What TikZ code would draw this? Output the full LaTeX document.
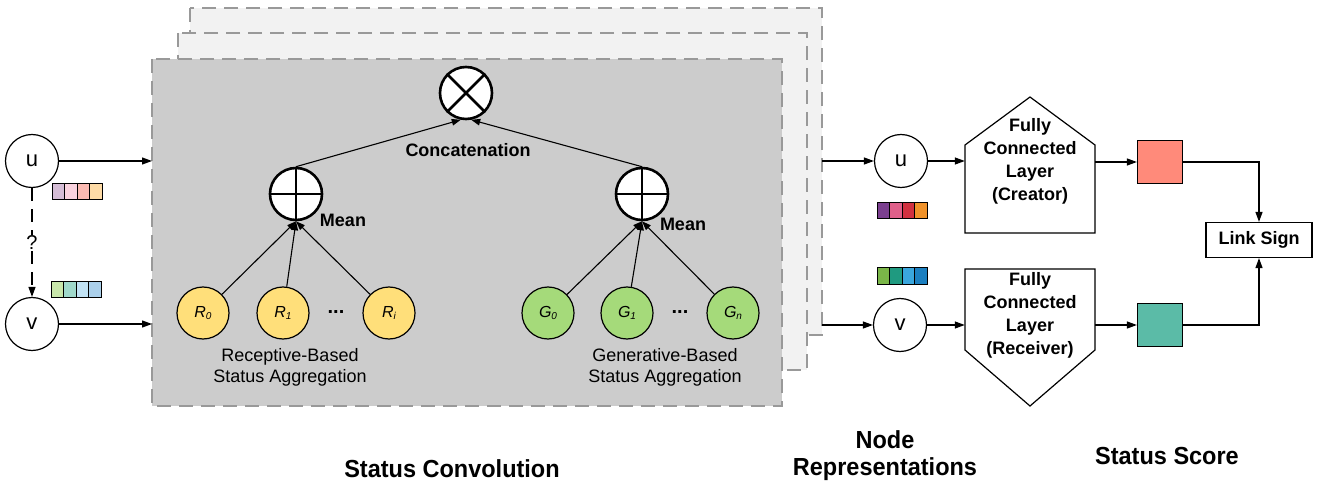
\documentclass[tikz,border=0pt]{standalone}
\usepackage{fontspec}
\setmainfont{Liberation Sans}
\usetikzlibrary{arrows.meta,shapes.geometric}
\definecolor{framegray}{HTML}{999999}
\definecolor{frontfill}{HTML}{CCCCCC}
\definecolor{backfill}{HTML}{F2F2F2}
\definecolor{ryellow}{HTML}{FFDF7A}
\definecolor{ggreen}{HTML}{A5DA7A}
\definecolor{sqred}{HTML}{FF8A7A}
\definecolor{sqteal}{HTML}{5BBBA7}
\definecolor{ua}{HTML}{D5BDD6}\definecolor{ub}{HTML}{F9D2DE}\definecolor{uc}{HTML}{FBBAB2}\definecolor{ud}{HTML}{FEDBA6}
\definecolor{va}{HTML}{C9E7AB}\definecolor{vb}{HTML}{A0D9CB}\definecolor{vc}{HTML}{C2E3F5}\definecolor{vd}{HTML}{ABD0EB}
\definecolor{Ua}{HTML}{7B3F8F}\definecolor{Ub}{HTML}{E0608A}\definecolor{Uc}{HTML}{D13140}\definecolor{Ud}{HTML}{F0922A}
\definecolor{Va}{HTML}{7AB648}\definecolor{Vb}{HTML}{1F9A80}\definecolor{Vc}{HTML}{3AA6DD}\definecolor{Vd}{HTML}{1B7FC0}
\tikzset{
  frame/.style={draw=framegray, line width=2.6pt, dash pattern=on 14pt off 8pt},
  io/.style={circle, draw, line width=1.2pt, minimum size=53pt, inner sep=0pt, fill=white, font=\fontsize{22}{24}\selectfont},
  op/.style={circle, draw, line width=2.6pt, minimum size=52pt, inner sep=0pt, fill=white},
  leaf/.style={circle, draw, line width=1.2pt, minimum size=52pt, inner sep=0pt},
  arr/.style={-{Triangle[length=10pt,width=7pt]}, line width=1.2pt},
  sarr/.style={-{Triangle[length=9pt,width=6.5pt]}, line width=1.1pt},
  bold18/.style={font=\fontsize{18}{23}\selectfont\bfseries, align=center, inner sep=0pt},
  reg18/.style={font=\fontsize{18}{21}\selectfont, align=center, inner sep=0pt},
  big/.style={font=\fontsize{23.5}{27}\selectfont\bfseries, align=center, inner sep=0pt},
  fc/.style={bold18, minimum width=130pt},
  cell/.style={draw, line width=1pt, minimum width=12.5pt, minimum height=16pt, inner sep=0pt},
  sq/.style={draw, line width=1.2pt, minimum width=45pt, minimum height=43pt, inner sep=0pt},
  dots/.style={font=\fontsize{20}{20}\selectfont\bfseries, inner sep=0pt, anchor=base}
}
\newcommand\sbs[1]{\raisebox{-2pt}{\fontsize{10}{10}\selectfont\itshape #1}}
\newcommand\vs[1]{\scalebox{1}[1.05]{#1}}
\begin{document}
\begin{tikzpicture}[x=1pt,y=-1pt]
\useasboundingbox (0,0) rectangle (1323,489);
% frames
\fill[backfill] (190,8) rectangle (822,335);
\draw[frame] (190,8) rectangle (822,335);
\fill[backfill] (178,33) rectangle (807,370);
\draw[frame] (178,33) rectangle (807,370);
\fill[frontfill] (152,59) rectangle (782,406);
\draw[frame] (152,59) rectangle (782,406);
\coordinate (fl) at (152,59);
\coordinate (br) at (822,8);

% inputs
\node[io] (u) at (32,161) {u};
\node[io] (v) at (32,324) {v};
\draw[arr] (u) -- (u -| fl);
\draw[arr] (v) -- (v -| fl);
\draw[arr, dash pattern=on 13pt off 8pt] (u) -- node[fill=white, inner sep=1pt, font=\fontsize{20}{22}\selectfont] (q) {?} (v);

% light vectors
\foreach \c [count=\i] in {ua,ub,uc,ud}
  \node[cell, fill=\c] (ucell\i) at ({52+12.5*(\i-0.5)},192) {};
\foreach \c [count=\i] in {va,vb,vc,vd}
  \node[cell, fill=\c] (vcell\i) at ({51+12.5*(\i-0.5)},289) {};

% aggregation tree
\node[op] (cx) at (466,93) {};
\draw[line width=2.6pt] (cx.45) -- (cx.225) (cx.135) -- (cx.-45);
\node[op] (m1) at (296,194) {};
\draw[line width=2.6pt] (m1.north) -- (m1.south) (m1.west) -- (m1.east);
\node[op] (m2) at (642,194) {};
\draw[line width=2.6pt] (m2.north) -- (m2.south) (m2.west) -- (m2.east);
\draw[sarr] (m1.north) -- (cx.-101);
\draw[sarr] (m2.north) -- (cx.-79);
\node[bold18] (concat) at (468,150) {Concatenation};
\node[bold18] (mean1) at (343,220) {Mean};
\node[bold18] (mean2) at (683,224) {Mean};

\node[leaf, fill=ryellow] (r0) at (203,313) {\fontsize{16}{18}\selectfont\itshape R\sbs{0}};
\node[leaf, fill=ryellow] (r1) at (283,313) {\fontsize{16}{18}\selectfont\itshape R\sbs{1}};
\node[leaf, fill=ryellow] (ri) at (389,313) {\fontsize{16}{18}\selectfont\itshape R\sbs{i}};
\node[leaf, fill=ggreen] (g0) at (548,313) {\fontsize{16}{18}\selectfont\itshape G\sbs{0}};
\node[leaf, fill=ggreen] (g1) at (627,313) {\fontsize{16}{18}\selectfont\itshape G\sbs{1}};
\node[leaf, fill=ggreen] (gn) at (733,313) {\fontsize{16}{18}\selectfont\itshape G\sbs{n}};
\node[dots] (rdots) at (336,313) {...};
\node[dots] (gdots) at (680,313) {...};
\foreach \n in {r0,r1,ri} \draw[sarr] (\n) -- (m1.south);
\foreach \n in {g0,g1,gn} \draw[sarr] (\n) -- (m2.south);
\node[reg18] (rtxt) at (290,367) {Receptive-Based\\Status Aggregation};
\node[reg18] (gtxt) at (665,367) {Generative-Based\\Status Aggregation};

% node representations
\node[io] (u2) at (901,161) {u};
\node[io] (v2) at (900,325) {v};
\draw[arr] (u2 -| br) -- (u2);
\draw[arr] (v2 -| br) -- (v2);
\foreach \c [count=\i] in {Ua,Ub,Uc,Ud}
  \node[cell, fill=\c] (Ucell\i) at ({877+12.5*(\i-0.5)},211) {};
\foreach \c [count=\i] in {Va,Vb,Vc,Vd}
  \node[cell, fill=\c] (Vcell\i) at ({877+12.5*(\i-0.5)},276) {};

% fully connected layers
\draw[line width=1.2pt, fill=white] (1030,97) -- (1095,145) -- (1095,233) -- (965,233) -- (965,145) -- cycle;
\draw[line width=1.2pt, fill=white] (965,269) -- (1095,269) -- (1095,350) -- (1030,406) -- (965,350) -- cycle;
\node[fc] (fc1) at (1030,161) {Fully\\Connected\\Layer\\(Creator)};
\node[fc] (fc2) at (1030,315) {Fully\\Connected\\Layer\\(Receiver)};
\draw[arr] (u2) -- (u2 -| fc1.west);
\draw[arr] (v2) -- (v2 -| fc2.west);

% status scores
\node[sq, fill=sqred] (s1) at (1160,162) {};
\node[sq, fill=sqteal] (s2) at (1160,325) {};
\draw[arr] (s1 -| fc1.east) -- (s1);
\draw[arr] (s2 -| fc2.east) -- (s2);
\node[draw, line width=1.2pt, minimum width=106pt, minimum height=35pt, bold18] (ls) at (1259,240) {Link Sign};
\draw[arr] (s1.east) -| (ls.north);
\draw[arr] (s2.east) -| (ls.south);

% captions
\node[big] (c1) at (452,469) {\vs{Status Convolution}};
\node[big, font=\fontsize{23.5}{27}\selectfont\bfseries] (c2) at (885,456) {\vs{Node}\\\vs{Representations}};
\node[big] (c3) at (1167,456) {\vs{Status Score}};
\end{tikzpicture}
\end{document}
